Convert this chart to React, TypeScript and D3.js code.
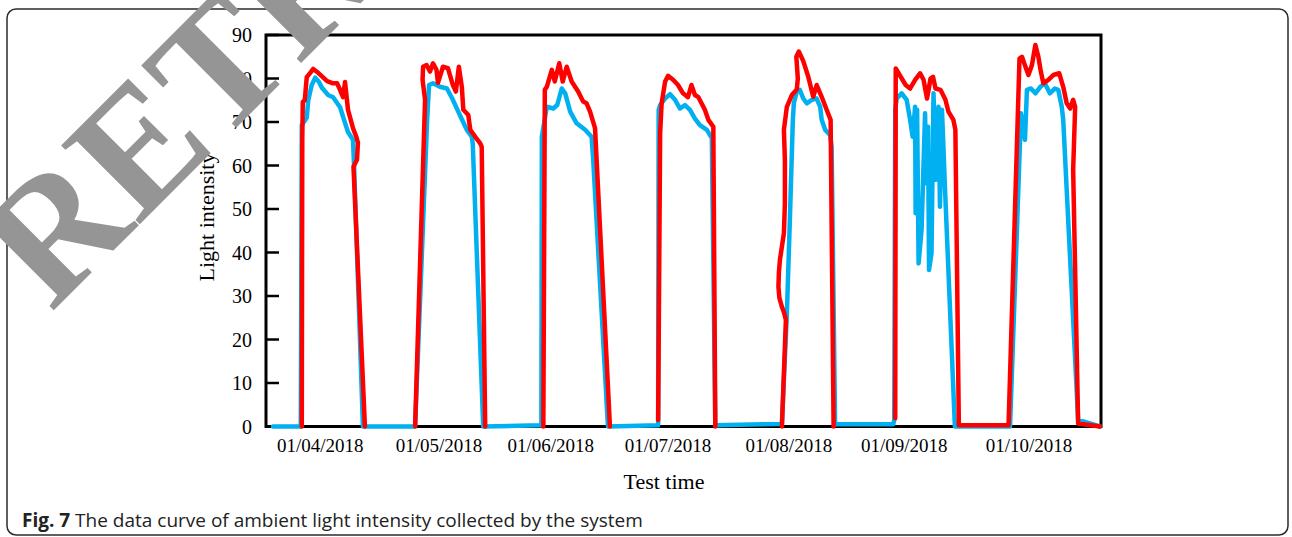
import * as d3 from 'd3'

// hours since the first sample, light intensity
const BLUE: [number, number][] = [
  [1.4, 0], [7.0, 0], [7.2, 69.3], [8.2, 71], [8.5, 75], [9.2, 78.5], [9.9, 80.2], [10.6, 79.3],
  [11.3, 77.8], [12.5, 76.2], [13.5, 75.7], [14.9, 73.4], [15.9, 69.8], [16.5, 67.7], [17.5, 65.9],
  [17.7, 60.6], [19.5, 0],
  [30.0, 0], [32.4, 70], [32.8, 78.5], [33.6, 78.9], [35.0, 78.1], [36.4, 77.7], [37.6, 75.1],
  [39.0, 71.6], [40.4, 68.2], [41.4, 66.6], [41.6, 65], [43.7, 0], [55.1, 0.3],
  [55.4, 0.3], [55.5, 66.6], [56.5, 73.5], [57.8, 73.1], [58.6, 73.9], [59.5, 77.7], [60.2, 76.6],
  [61.2, 72.4], [62.5, 69.7], [64.2, 68.2], [65.5, 66.6], [65.8, 62], [68.8, 0], [78.9, 0.3],
  [79.0, 72.8], [79.3, 73.9], [80.3, 75.4], [81.3, 76.4], [82.3, 75.1], [83.3, 73.1], [84.3, 73.9],
  [85.3, 72.8], [86.3, 70.8], [87.3, 69.3], [88.7, 68.2], [89.7, 66.3], [90.4, 0.3], [103.8, 0.6],
  [104.8, 26], [105.4, 47.5], [106.0, 70.5], [106.2, 74.3], [106.8, 77], [107.4, 77.4], [108.1, 75.4],
  [108.8, 74.3], [109.8, 75.1], [110.8, 75.4], [111.5, 73.5], [111.8, 70.5], [112.5, 68.2],
  [113.5, 67], [113.8, 64.3], [114.5, 0.5], [126.2, 0.5],
  [126.4, 1.5], [126.6, 72.8], [126.9, 75.4], [127.9, 76.6], [128.9, 75.1], [129.6, 70.5],
  [130.1, 66.6], [130.6, 73.5], [130.7, 49], [131.0, 72.8], [131.3, 37.5], [131.9, 45.2],
  [132.6, 72], [132.9, 55.9], [133.2, 68.9], [133.4, 36], [133.9, 39.8], [134.3, 76.6],
  [134.8, 56.7], [135.3, 73.5], [135.6, 50.5], [136.0, 72.8], [136.3, 64.3], [136.6, 55.1],
  [138.6, 0], [149.7, 0],
  [151.9, 72], [152.7, 65.9], [153.1, 77.4], [153.9, 77.7], [154.8, 76.6], [155.8, 78.1],
  [156.7, 78.9], [157.7, 76.6], [158.7, 77.7], [159.4, 77.4], [160.1, 73.5], [160.4, 70.5],
  [163.4, 1.5], [167.8, 0],
]

const RED: ([number, number] | null)[] = [
  [7.2, 0], [7.3, 65.9], [7.4, 74.6], [7.8, 75], [8.2, 80.3], [8.9, 81.3], [9.5, 82.2], [10.5, 81.3],
  [12.3, 79.4], [13.5, 78.9], [14.3, 78.9], [14.9, 77.4], [15.5, 75.7], [15.9, 79.2], [16.5, 72.8],
  [17.5, 68.6], [18.2, 66.5], [18.5, 65.2], [18.3, 61.3], [17.6, 59.7], [19.9, 0],
  null,
  [30.0, 0], [32.0, 75.1], [31.5, 79.7], [31.6, 82.7], [32.3, 83.1], [33.0, 81.6], [33.6, 83.5],
  [34.3, 82], [34.6, 79], [35.6, 82.7], [36.6, 82.4], [37.6, 78.5], [38.2, 77], [38.8, 82.7],
  [39.4, 78.1], [39.7, 72.8], [40.7, 71.6], [41.1, 68.2], [42.1, 66.6], [43.1, 65.1], [43.4, 64.3],
  [44.1, 0],
  null,
  [55.8, 0], [56.1, 77.4], [56.5, 78.1], [57.5, 82], [58.1, 79.3], [59.0, 83.5], [59.7, 79.3],
  [60.5, 82.7], [61.5, 79.3], [62.8, 77], [63.8, 74.7], [64.5, 74.3], [65.2, 72.4], [66.2, 68.6],
  [69.2, 0],
  null,
  [78.9, 1.5], [79.3, 67.4], [79.6, 74.3], [80.3, 79.3], [80.9, 80.6], [81.9, 79.7], [82.9, 78.5],
  [83.9, 76.6], [84.9, 75.7], [85.6, 78.5], [86.3, 76.2], [87.0, 75.7], [88.3, 72.8], [89.0, 70.5],
  [90.0, 68.9], [90.4, 0],
  null,
  [103.8, 0], [104.6, 24.5], [104.2, 26.3], [103.8, 27.5], [103.3, 29.5], [103.1, 32.1],
  [103.2, 35.5], [103.4, 38.3], [104.2, 44.4], [104.4, 51.3], [104.4, 61.3], [104.2, 68.2],
  [104.8, 73.5], [105.8, 76.2], [106.8, 77.5], [107.0, 80], [106.7, 85], [107.2, 86.2], [108.1, 84],
  [109.1, 80.4], [110.1, 75.8], [110.8, 78.5], [111.8, 75.8], [112.8, 72.8], [113.6, 70.5], [114.2, 0],
  null,
  [126.6, 1.9], [126.7, 82.3], [127.7, 80.4], [128.7, 78.5], [129.6, 77.7], [130.6, 79.7],
  [131.6, 81.2], [132.3, 79.7], [133.0, 75.4], [133.7, 80], [134.2, 80.4], [134.7, 77.7],
  [135.7, 77.4], [136.7, 75.1], [137.3, 72.4], [138.3, 70.5], [138.7, 68.2], [139.4, 0.3],
  [149.4, 0.3], [151.6, 84.6], [152.1, 85], [152.8, 82.7], [153.4, 80.8], [154.1, 83.1],
  [154.8, 87.7], [155.4, 85], [155.9, 81.6], [156.4, 78.9], [157.4, 79.7], [158.4, 80.8],
  [159.6, 81.2], [160.4, 78.1], [161.1, 74.3], [161.8, 73.1], [162.4, 75.1], [162.8, 73.5],
  [162.4, 59], [163.4, 0.7], [167.8, 0],
]

const Y_TICKS = [0, 10, 20, 30, 40, 50, 60, 70, 80, 90]
const X_LABELS = ['01/04/2018', '01/05/2018', '01/06/2018', '01/07/2018', '01/08/2018', '01/09/2018', '01/10/2018']
const X_LABEL_AT = [10.9, 34.8, 57.3, 80.9, 105.2, 128.4, 153.5]

const W = 1292, H = 537
const plot = { left: 266, right: 1101, top: 35, bottom: 426.5 }
const serif = '"Liberation Serif", "Times New Roman", serif'

export default function App() {
  const x = d3.scaleLinear().domain([0, 168]).range([plot.left, plot.right])
  const y = d3.scaleLinear().domain([0, 90]).range([plot.bottom, plot.top])

  const blueLine = d3.line<[number, number]>()
    .x(d => x(d[0]))
    .y(d => y(d[1]))

  const redLine = d3.line<[number, number] | null>()
    .defined(d => d !== null)
    .x(d => x(d![0]))
    .y(d => y(d![1]))

  return (
    <svg width={W} height={H} style={{ position: 'absolute', left: 0, top: 0 }}>
      <rect x={7} y={9} width={1281} height={526} rx={9} fill="none" stroke="#2b2b2b" strokeWidth={1.5} />

      {/* plot frame */}
      <rect x={plot.left} y={plot.top} width={plot.right - plot.left} height={plot.bottom - plot.top}
        fill="none" stroke="#000" strokeWidth={3} />

      {Y_TICKS.map(t => (
        <g key={t}>
          <line x1={plot.left} x2={plot.left + 13} y1={y(t)} y2={y(t)} stroke="#000" strokeWidth={2.5} />
          <text x={plot.left - 14} y={y(t)} dy="0.35em" textAnchor="end" fontFamily={serif} fontSize={20}>{t}</text>
        </g>
      ))}

      {X_LABELS.map((l, i) => (
        <text key={l} x={x(X_LABEL_AT[i])} y={452} textAnchor="middle" fontFamily={serif} fontSize={19}>{l}</text>
      ))}

      <text x={664} y={489} textAnchor="middle" fontFamily={serif} fontSize={22}>Test time</text>
      <text transform="translate(214,217) rotate(-90)" textAnchor="middle" fontFamily={serif} fontSize={22}>Light intensity</text>

      <path d={blueLine(BLUE) ?? ''} fill="none" stroke="#00b0f0" strokeWidth={4.5} strokeLinejoin="round" strokeLinecap="round" />
      <path d={redLine(RED) ?? ''} fill="none" stroke="#ff0000" strokeWidth={4.5} strokeLinejoin="round" strokeLinecap="round" />

      <text x={22} y={527} fontFamily='"Open Sans", sans-serif' fontSize={19} fill="#222">
        <tspan fontWeight="bold">Fig. 7</tspan> The data curve of ambient light intensity collected by the system
      </text>

      <text transform="translate(51,313) rotate(-45)" fontFamily={serif} fontWeight="bold" fontSize={170} fill="#959595">RETRACTED</text>
    </svg>
  )
}
